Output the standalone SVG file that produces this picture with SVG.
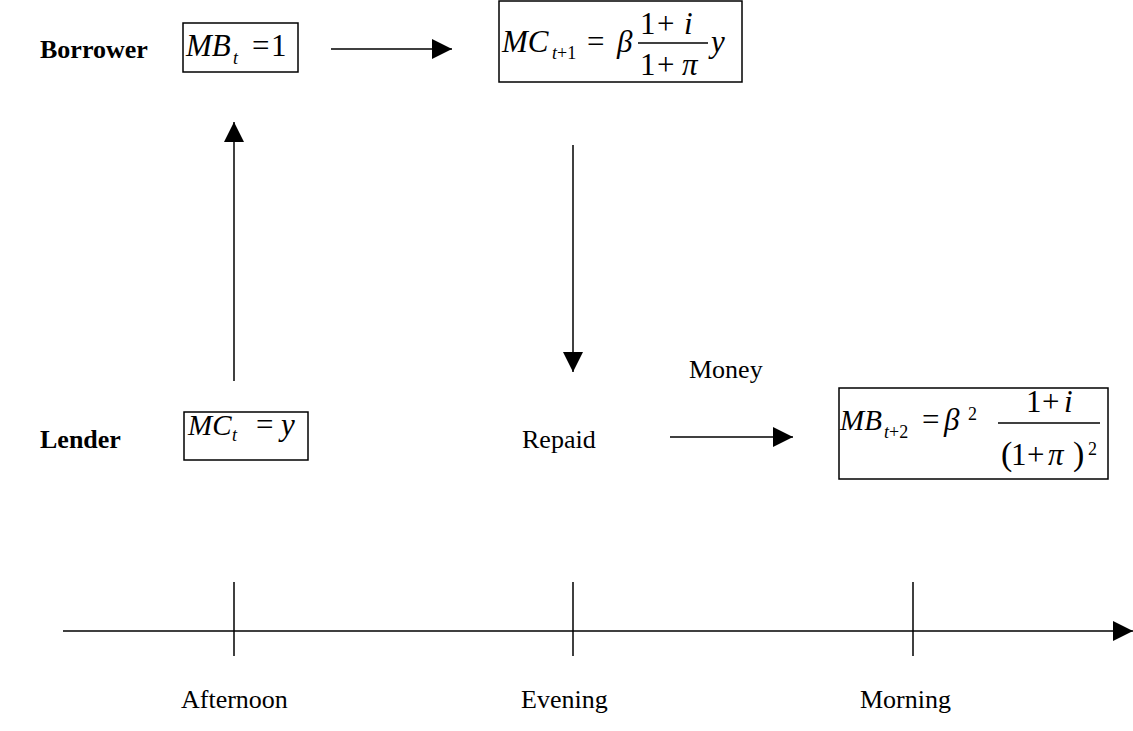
<svg xmlns="http://www.w3.org/2000/svg" width="1133" height="731" viewBox="0 0 1133 731">
<style>
.lbl{font-family:"Liberation Serif","Times New Roman",serif;font-size:26px;fill:#000}
.b{font-weight:bold}
.m{font-family:"Liberation Serif","Times New Roman",serif;font-size:31px;fill:#000}
.i{font-style:italic}
.s{font-size:18px}
.box{fill:#fff;stroke:#000;stroke-width:1.5}
.ln{stroke:#000;stroke-width:1.5;fill:none}
</style>
<defs>
<marker id="ah" markerWidth="20" markerHeight="20" refX="20" refY="10" orient="auto" markerUnits="userSpaceOnUse">
<path d="M0,0 L20,10 L0,20 Z" fill="#000"/>
</marker>
</defs>
<g id="labels">
<text class="lbl b" x="40" y="58">Borrower</text>
<text class="lbl b" x="40" y="448">Lender</text>
<text class="lbl" x="689" y="378">Money</text>
<text class="lbl" x="522" y="448">Repaid</text>
<text class="lbl" x="181" y="708">Afternoon</text>
<text class="lbl" x="521" y="708">Evening</text>
<text class="lbl" x="860" y="708">Morning</text>
</g>
<g id="node-mbt">
<rect class="box" x="183" y="23" width="115" height="49"/>
<text class="m i" x="186" y="56">MB</text>
<text class="m i s" x="233" y="64">t</text>
<text class="m" x="252" y="56">=</text>
<text class="m" x="271" y="56">1</text>
</g>
<g id="node-mct1">
<rect class="box" x="499" y="1" width="243" height="81"/>
<text class="m i" x="502" y="52">MC</text>
<text class="m s" x="552" y="59"><tspan class="i">t</tspan>+1</text>
<text class="m" x="587" y="52">=</text>
<text class="m i" x="617" y="52">β</text>
<line class="ln" x1="638" y1="43" x2="708" y2="43" stroke-width="1.2"/>
<text class="m" x="640" y="34">1</text>
<text class="m" x="657" y="34">+</text>
<text class="m i" x="684" y="34">i</text>
<text class="m" x="640" y="75">1</text>
<text class="m" x="657" y="75">+</text>
<text class="m i" x="682" y="75">π</text>
<text class="m i" x="711" y="52">y</text>
</g>
<g id="node-mct">
<rect class="box" x="184" y="412" width="124" height="48"/>
<text class="m i" x="188" y="435" style="font-size:29px">MC</text>
<text class="m i s" x="232" y="441">t</text>
<text class="m" x="256" y="435">=</text>
<text class="m i" x="281" y="435">y</text>
</g>
<g id="node-mbt2">
<rect class="box" x="839" y="388" width="269" height="91"/>
<text class="m i" x="840" y="430" style="font-size:29px">MB</text>
<text class="m s" x="884" y="438"><tspan class="i">t</tspan>+2</text>
<text class="m" x="922" y="430">=</text>
<text class="m i" x="944" y="430">β</text>
<text class="m s" x="968" y="420">2</text>
<line class="ln" x1="998" y1="423" x2="1100" y2="423" stroke-width="1.2"/>
<text class="m" x="1026" y="412">1</text>
<text class="m" x="1042" y="412">+</text>
<text class="m i" x="1064" y="412">i</text>
<text class="m" x="1001" y="465" style="font-size:34px">(</text>
<text class="m" x="1011" y="465">1</text>
<text class="m" x="1027" y="465">+</text>
<text class="m i" x="1048" y="465">π</text>
<text class="m" x="1073" y="465" style="font-size:34px">)</text>
<text class="m s" x="1088" y="455">2</text>
</g>
<g id="connectors">
<line class="ln" x1="331" y1="49" x2="452" y2="49" marker-end="url(#ah)"/>
<line class="ln" x1="234" y1="381" x2="234" y2="122" marker-end="url(#ah)"/>
<line class="ln" x1="573" y1="145" x2="573" y2="372" marker-end="url(#ah)"/>
<line class="ln" x1="670" y1="437" x2="793" y2="437" marker-end="url(#ah)"/>
<line class="ln" x1="63" y1="631" x2="1133" y2="631" marker-end="url(#ah)"/>
<line class="ln" x1="234" y1="582" x2="234" y2="656"/>
<line class="ln" x1="573" y1="582" x2="573" y2="656"/>
<line class="ln" x1="913" y1="582" x2="913" y2="656"/>
</g>
</svg>
